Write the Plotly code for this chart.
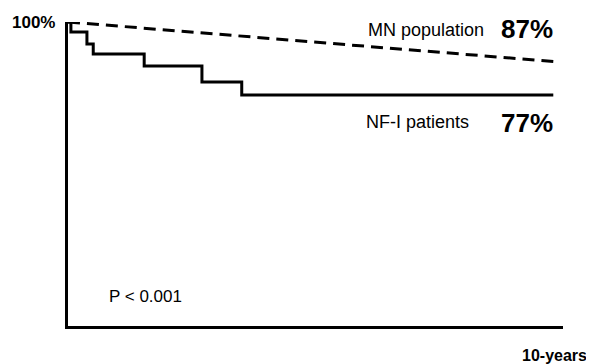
import plotly.graph_objects as go

# Kaplan-Meier style step data (years, survival %)
nf1_years = [0, 0.06, 0.39, 0.52, 1.57, 2.76, 3.58, 10]
nf1_surv = [100, 96.7, 92.8, 89.5, 85.5, 80.3, 76.0, 76.0]

mn_years = [0, 10]
mn_surv = [100, 87]

FONT = "Liberation Sans, Arial, Helvetica, sans-serif"

fig = go.Figure()
fig.add_trace(go.Scatter(x=mn_years, y=mn_surv, mode="lines",
                         line=dict(color="black", width=3, dash="12px,7px"),
                         showlegend=False, hoverinfo="skip"))
fig.add_trace(go.Scatter(x=nf1_years, y=nf1_surv, mode="lines",
                         line=dict(color="black", width=3, shape="hv"),
                         showlegend=False, hoverinfo="skip"))

ann = []
ann.append(dict(text="<b>100%</b>", xref="paper", yref="y", x=0, y=100,
                xanchor="right", yanchor="middle", xshift=-11, showarrow=False,
                font=dict(family=FONT, size=17, color="black")))
ann.append(dict(text="MN population", xref="x", yref="y", x=6.14, y=97.4,
                xanchor="left", yanchor="middle", showarrow=False,
                font=dict(family=FONT, size=18, color="black")))
ann.append(dict(text="<b>87%</b>", xref="x", yref="y", x=8.89, y=97.6,
                xanchor="left", yanchor="middle", showarrow=False,
                font=dict(family=FONT, size=26, color="black")))
ann.append(dict(text="NF-I patients", xref="x", yref="y", x=6.1, y=67.1,
                xanchor="left", yanchor="middle", showarrow=False,
                font=dict(family=FONT, size=18, color="black")))
ann.append(dict(text="<b>77%</b>", xref="x", yref="y", x=8.89, y=66.8,
                xanchor="left", yanchor="middle", showarrow=False,
                font=dict(family=FONT, size=26, color="black")))
ann.append(dict(text="P < 0.001", xref="x", yref="y", x=0.8, y=9.8,
                xanchor="left", yanchor="middle", showarrow=False,
                font=dict(family=FONT, size=17, color="black")))
ann.append(dict(text="<b>10-years</b>", xref="paper", yref="paper", x=1, y=0,
                xanchor="right", yanchor="middle", xshift=26, yshift=-29,
                showarrow=False, font=dict(family=FONT, size=16, color="black")))

fig.update_layout(
    width=594, height=364,
    margin=dict(l=60, r=39, t=14, b=46),
    paper_bgcolor="white", plot_bgcolor="white",
    annotations=ann,
    xaxis=dict(range=[0, 10.2], showgrid=False, zeroline=False, showticklabels=False,
               ticks="", showline=True, linecolor="black", linewidth=2.5, fixedrange=True),
    yaxis=dict(range=[0, 100], showgrid=False, zeroline=False, showticklabels=False,
               ticks="", showline=True, linecolor="black", linewidth=2.5, fixedrange=True),
)

fig.write_html("out.html", config={"displayModeBar": False})
